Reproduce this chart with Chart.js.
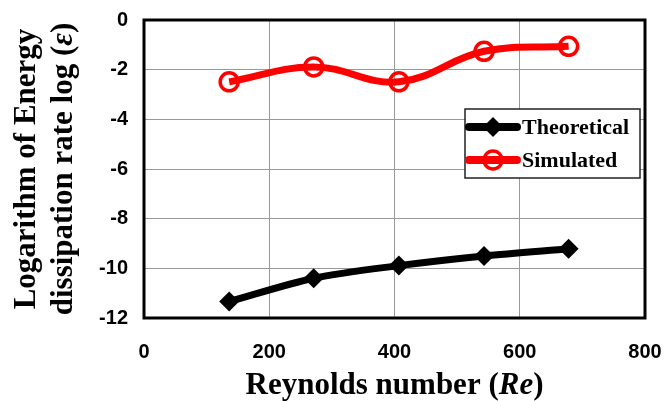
<!DOCTYPE html>
<html>
<head>
<meta charset="utf-8">
<script src="https://cdn.jsdelivr.net/npm/chart.js@4/dist/chart.umd.min.js"></script>
<style>
  body { margin: 0; background: #fff; }
  #wrap { width: 667px; height: 401px; position: relative; }
</style>
</head>
<body>
<div id="wrap"><canvas id="chart"></canvas></div>
<script>
// Reynolds numbers and log of dissipation rate for each case
const reynolds = [136, 271, 407, 543, 678];
const theoretical = [-11.34, -10.40, -9.89, -9.50, -9.21];
const simulated = [-2.49, -1.89, -2.49, -1.26, -1.06];
const xTickValues = [0, 200, 400, 600, 800];
const yTickValues = [0, -2, -4, -6, -8, -10, -12];
const seriesNames = ['Theoretical', 'Simulated'];

const serif = '"Liberation Serif", "Times New Roman", serif';
const sans = '"Liberation Sans", Arial, sans-serif';

function toPoints(ys) {
    return reynolds.map((x, i) => ({ x: x, y: ys[i] }));
}

// draw text made of parts with different styles, centred on x
function drawRichText(ctx, parts, x, y) {
    let total = 0;
    parts.forEach(p => { ctx.font = p.font; total += ctx.measureText(p.text).width; });
    let cx = x - total / 2;
    parts.forEach(p => {
        ctx.font = p.font;
        ctx.fillText(p.text, cx, y);
        cx += ctx.measureText(p.text).width;
    });
}

const titlesPlugin = {
    id: 'titles',
    afterDraw(chart) {
        const ctx = chart.ctx;
        const area = chart.chartArea;
        const bold = 'bold 31px ' + serif;
        const boldItalic = 'italic bold 31px ' + serif;
        ctx.save();
        ctx.fillStyle = '#000';
        ctx.textAlign = 'left';
        ctx.textBaseline = 'alphabetic';
        drawRichText(ctx, [
            { text: 'Reynolds number (', font: bold },
            { text: 'Re', font: boldItalic },
            { text: ')', font: bold }
        ], (area.left + area.right) / 2, 394);

        ctx.translate(0, (area.top + area.bottom) / 2);
        ctx.rotate(-Math.PI / 2);
        drawRichText(ctx, [{ text: 'Logarithm of Energy', font: bold }], 0, 35);
        drawRichText(ctx, [
            { text: 'dissipation rate log (', font: bold },
            { text: 'ε', font: boldItalic },
            { text: ')', font: bold }
        ], 0, 72);
        ctx.restore();
    }
};

// thick frame round the plot area
const framePlugin = {
    id: 'frame',
    beforeDatasetsDraw(chart) {
        const ctx = chart.ctx;
        const a = chart.chartArea;
        ctx.save();
        ctx.strokeStyle = '#000';
        ctx.lineWidth = 3;
        ctx.strokeRect(a.left, a.top, a.right - a.left, a.bottom - a.top);
        ctx.restore();
    }
};

// boxed legend sitting inside the plot, right side
const legendPlugin = {
    id: 'boxLegend',
    afterDatasetsDraw(chart) {
        const ctx = chart.ctx;
        const a = chart.chartArea;
        const left = a.left + 321, top = 109, w = 175, h = 69;
        ctx.save();
        ctx.fillStyle = '#fff';
        ctx.fillRect(left, top, w, h);
        ctx.strokeStyle = '#222';
        ctx.lineWidth = 1.5;
        ctx.strokeRect(left, top, w, h);

        chart.data.datasets.forEach((ds, i) => {
            const y = top + 18 + i * 33;
            const x0 = left + 4, x1 = left + 52, mx = (x0 + x1) / 2;
            ctx.strokeStyle = ds.borderColor;
            ctx.lineWidth = 8;
            ctx.lineCap = 'round';
            ctx.beginPath();
            ctx.moveTo(x0, y);
            ctx.lineTo(x1, y);
            ctx.stroke();

            const r = ds.pointRadius;
            if (ds.pointStyle === 'rectRot') {
                ctx.fillStyle = ds.pointBackgroundColor;
                ctx.beginPath();
                ctx.moveTo(mx, y - r);
                ctx.lineTo(mx + r, y);
                ctx.lineTo(mx, y + r);
                ctx.lineTo(mx - r, y);
                ctx.closePath();
                ctx.fill();
            } else {
                ctx.strokeStyle = ds.pointBorderColor;
                ctx.lineWidth = ds.pointBorderWidth;
                ctx.beginPath();
                ctx.arc(mx, y, r, 0, Math.PI * 2);
                ctx.stroke();
            }

            ctx.fillStyle = '#000';
            ctx.font = 'bold 22px ' + serif;
            ctx.textAlign = 'left';
            ctx.textBaseline = 'middle';
            ctx.fillText(ds.label, x1 + 5, y + 1);
        });
        ctx.restore();
    }
};

new Chart(document.getElementById('chart'), {
    type: 'line',
    data: {
        datasets: [
            {
                label: seriesNames[0],
                data: toPoints(theoretical),
                borderColor: '#000',
                borderWidth: 7,
                tension: 0.3,
                pointStyle: 'rectRot',
                pointRadius: 10,
                pointBackgroundColor: '#000',
                pointBorderColor: '#000',
                pointBorderWidth: 0
            },
            {
                label: seriesNames[1],
                data: toPoints(simulated),
                borderColor: '#ff0000',
                borderWidth: 7,
                tension: 0.4,
                pointStyle: 'circle',
                pointRadius: 9,
                pointBackgroundColor: 'rgba(0,0,0,0)',
                pointBorderColor: '#ff0000',
                pointBorderWidth: 3.5
            }
        ]
    },
    options: {
        responsive: true,
        maintainAspectRatio: false,
        animation: false,
        devicePixelRatio: 1,
        layout: { padding: { top: 20, right: 22, left: 0, bottom: 0 } },
        plugins: {
            legend: { display: false },
            tooltip: { enabled: false }
        },
        scales: {
            x: {
                type: 'linear',
                min: 0,
                max: 800,
                afterFit(scale) {
                    scale.height = 83;
                    scale.paddingLeft = 0;
                    scale.paddingRight = 0;
                },
                afterBuildTicks(scale) { scale.ticks = xTickValues.map(v => ({ value: v })); },
                grid: { color: '#999', lineWidth: 1, drawTicks: false },
                border: { display: false },
                ticks: {
                    padding: 22,
                    color: '#000',
                    font: { family: sans, size: 20, weight: 'bold' }
                }
            },
            y: {
                min: -12,
                max: 0,
                afterFit(scale) {
                    scale.width = 144;
                    scale.paddingTop = 0;
                    scale.paddingBottom = 0;
                },
                afterBuildTicks(scale) { scale.ticks = yTickValues.map(v => ({ value: v })); },
                grid: { color: '#999', lineWidth: 1, drawTicks: false },
                border: { display: false },
                ticks: {
                    padding: 16,
                    color: '#000',
                    font: { family: sans, size: 20, weight: 'bold' }
                }
            }
        }
    },
    plugins: [framePlugin, legendPlugin, titlesPlugin]
});
</script>
</body>
</html>
